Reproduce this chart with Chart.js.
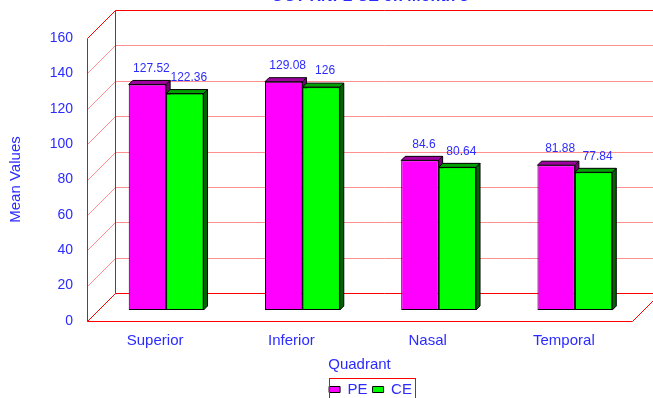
<!DOCTYPE html>
<html>
<head>
<meta charset="utf-8">
<title>OCT RNFL - Mean Values by Quadrant</title>
<script src="https://cdn.jsdelivr.net/npm/chart.js@4.4.0/dist/chart.umd.min.js"></script>
<style>
  html, body { margin: 0; padding: 0; background: #fff; overflow: hidden; }
  #wrap { position: relative; width: 653px; height: 398px; }
</style>
</head>
<body>
<div id="wrap"><canvas id="chart"></canvas></div>
<script>
// Chart data
const quadrants = ['Superior', 'Inferior', 'Nasal', 'Temporal'];
const peValues = [127.52, 129.08, 84.6, 81.88];
const ceValues = [122.36, 126, 80.64, 77.84];
const yTicks = [0, 20, 40, 60, 80, 100, 120, 140, 160];

const chartTitle = 'OCT RNFL CE on Month 3';
const blue = '#2b2bff';
const fontFamily = "'Liberation Sans', Arial, sans-serif";

// Fake 3D: bars stand on a plane, the front of the box is 11px before it,
// the back wall 17px behind it. Bars themselves are 4px deep.
const FRONT = 11;
const BACK = 17;
const D = 4;

const faceColors = [
    { top: '#a000a0', side: '#7a007a' },
    { top: '#00a000', side: '#006400' }
];

function line(ctx, x1, y1, x2, y2, color) {
    ctx.strokeStyle = color;
    ctx.beginPath();
    ctx.moveTo(x1, y1);
    ctx.lineTo(x2, y2);
    ctx.stroke();
}

function face(ctx, pts, fill) {
    ctx.beginPath();
    ctx.moveTo(pts[0][0], pts[0][1]);
    pts.slice(1).forEach(p => ctx.lineTo(p[0], p[1]));
    ctx.closePath();
    ctx.fillStyle = fill;
    ctx.fill();
    ctx.strokeStyle = '#000';
    ctx.stroke();
}

const box3d = {
    id: 'box3d',
    beforeDatasetsDraw(chart) {
        const { ctx, chartArea: a } = chart;
        const y = chart.scales.y;
        const red = '#ff0000';
        const pink = '#ff9090';
        const farRight = chart.width + 30;
        const left = Math.round(a.left) + 0.5;
        ctx.save();
        ctx.lineWidth = 1;

        yTicks.forEach((v, i) => {
            const py = Math.round(y.getPixelForValue(v)) + 0.5;
            const col = (i === 0 || i === yTicks.length - 1) ? red : pink;
            line(ctx, left + BACK, py - BACK, farRight, py - BACK, col);
            line(ctx, left - FRONT, py + FRONT, left + BACK, py - BACK, col);
        });

        const top = Math.round(y.getPixelForValue(yTicks[yTicks.length - 1])) + 0.5;
        const bottom = Math.round(y.getPixelForValue(0)) + 0.5;
        const right = Math.round(a.right) + 0.5;
        line(ctx, left - FRONT, top + FRONT, left - FRONT, bottom + FRONT, red);
        line(ctx, left + BACK, top - BACK, left + BACK, bottom - BACK, red);
        line(ctx, left - FRONT, bottom + FRONT, right - FRONT, bottom + FRONT, red);
        line(ctx, right - FRONT, bottom + FRONT, right + BACK, bottom - BACK, red);
        ctx.restore();
    },
    afterDatasetsDraw(chart) {
        const ctx = chart.ctx;
        const metas = [chart.getDatasetMeta(0), chart.getDatasetMeta(1)];
        ctx.save();
        ctx.lineWidth = 1;
        ctx.lineJoin = 'miter';

        // per category: PE faces first, then redraw CE front on top, then CE faces
        quadrants.forEach((q, i) => {
            metas.forEach((meta, d) => {
                const bar = meta.data[i];
                if (d > 0) bar.draw(ctx);
                const l = bar.x - bar.width / 2;
                const r = bar.x + bar.width / 2;
                face(ctx, [[r, bar.y], [r + D, bar.y - D], [r + D, bar.base - D], [r, bar.base]], faceColors[d].side);
                face(ctx, [[l, bar.y], [l + D, bar.y - D], [r + D, bar.y - D], [r, bar.y]], faceColors[d].top);
            });
        });

        // value labels
        ctx.font = '12px ' + fontFamily;
        ctx.fillStyle = blue;
        ctx.textAlign = 'center';
        ctx.textBaseline = 'middle';
        metas.forEach((meta, d) => {
            const vals = d === 0 ? peValues : ceValues;
            meta.data.forEach((bar, i) => {
                ctx.fillText(String(vals[i]), bar.x + D, bar.y - D - 12);
            });
        });
        ctx.restore();
    },
    afterDraw(chart) {
        const { ctx, chartArea: a } = chart;
        ctx.save();
        ctx.fillStyle = blue;
        ctx.textAlign = 'center';
        ctx.textBaseline = 'middle';

        // axis titles sit on the front plane of the box
        ctx.font = '15px ' + fontFamily;
        ctx.fillText('Quadrant', (a.left + a.right) / 2 - FRONT, a.bottom + 55);
        ctx.save();
        ctx.translate(a.left - 82, (a.top + a.bottom) / 2 + FRONT);
        ctx.rotate(-Math.PI / 2);
        ctx.fillText('Mean Values', 0, 0);
        ctx.restore();

        // chart title, mostly above the visible area
        ctx.font = 'bold 16px ' + fontFamily;
        ctx.textBaseline = 'alphabetic';
        ctx.fillText(chartTitle, 370, 1);

        // frame around legend
        const hb = chart.legend.legendHitBoxes;
        if (hb && hb.length) {
            const last = hb[hb.length - 1];
            const x1 = Math.round(hb[0].left) + 0.5;
            const x2 = Math.round(last.left + last.width) + 3.5;
            const y1 = Math.round(hb[0].top) - 3.5;
            ctx.strokeStyle = '#ff0000';
            ctx.lineWidth = 1;
            ctx.strokeRect(x1, y1, x2 - x1, 40);
        }
        ctx.restore();
    }
};

Chart.defaults.font.family = fontFamily;

new Chart(document.getElementById('chart'), {
    type: 'bar',
    data: {
        labels: quadrants,
        datasets: [
            {
                label: 'PE',
                data: peValues,
                backgroundColor: '#ff00ff',
                borderColor: '#000',
                borderWidth: 1,
                borderSkipped: false
            },
            {
                label: 'CE',
                data: ceValues,
                backgroundColor: '#00ff00',
                borderColor: '#000',
                borderWidth: 1,
                borderSkipped: false
            }
        ]
    },
    options: {
        responsive: true,
        maintainAspectRatio: false,
        animation: false,
        categoryPercentage: 0.549,
        barPercentage: 1.0,
        layout: { padding: { left: 7, right: 10, top: 27, bottom: 0 } },
        scales: {
            x: {
                grid: { display: false, drawTicks: false },
                border: { display: false },
                ticks: {
                    color: blue,
                    font: { size: 15 },
                    labelOffset: -FRONT,
                    padding: 22,
                    maxRotation: 0,
                    autoSkip: false
                },
                afterFit(scale) {
                    scale.height = 67;
                    scale.paddingLeft = 0;
                    scale.paddingRight = 0;
                }
            },
            y: {
                min: 0,
                max: 160,
                grid: { display: false, drawTicks: false },
                border: { display: false },
                ticks: {
                    stepSize: 20,
                    color: blue,
                    font: { size: 14 },
                    labelOffset: FRONT,
                    padding: 25
                },
                afterFit(scale) {
                    scale.width = 91;
                    scale.paddingTop = 0;
                    scale.paddingBottom = 0;
                }
            }
        },
        plugins: {
            legend: {
                position: 'bottom',
                fullSize: false,
                maxHeight: 21,
                labels: {
                    color: blue,
                    font: { size: 15 },
                    boxWidth: 11,
                    boxHeight: 6,
                    padding: 5
                }
            },
            tooltip: { enabled: false }
        }
    },
    plugins: [box3d]
});
</script>
</body>
</html>
